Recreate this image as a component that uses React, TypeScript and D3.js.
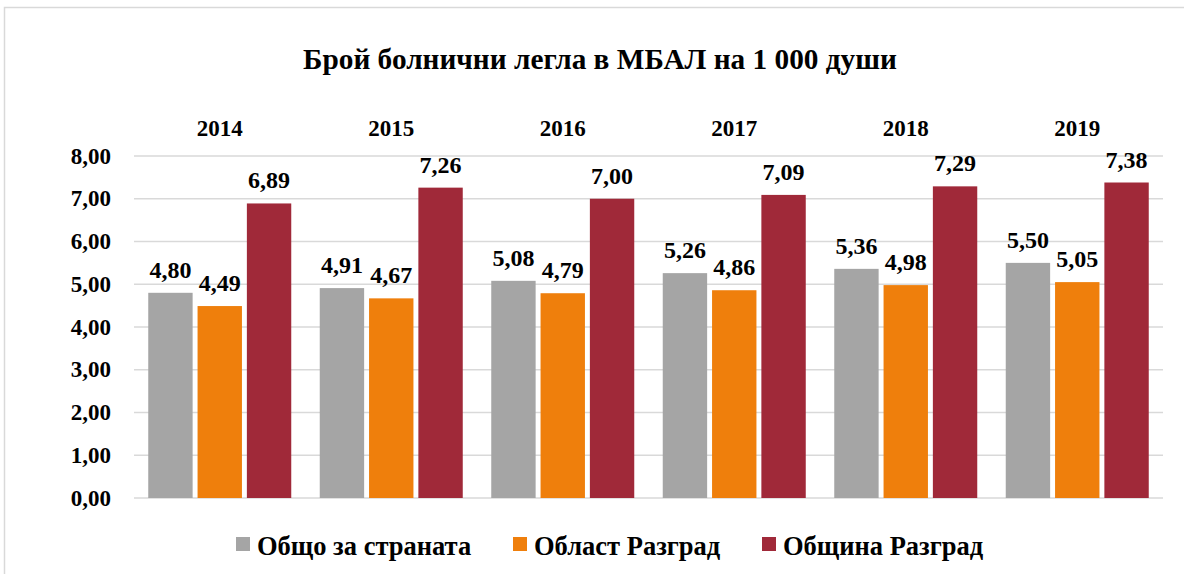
import React from "react";
import * as d3 from "d3";

const title = "Брой болнични легла в МБАЛ на 1 000 души";
const years = ["2014", "2015", "2016", "2017", "2018", "2019"];
const seriesNames = ["Общо за страната", "Област Разград", "Община Разград"];
const seriesColors = ["#a5a5a5", "#ef7f0c", "#a02939"];
const country = [4.8, 4.91, 5.08, 5.26, 5.36, 5.5];
const region = [4.49, 4.67, 4.79, 4.86, 4.98, 5.05];
const municipality = [6.89, 7.26, 7.0, 7.09, 7.29, 7.38];
const yTicks = [0, 1, 2, 3, 4, 5, 6, 7, 8];

const seriesValues = [country, region, municipality];
const fmt = (v: number) => v.toFixed(2).replace(".", ",");
const FONT = '"Liberation Serif", "DejaVu Serif", serif';

export default function App() {
  const W = 1184;
  const H = 574;
  const y = d3.scaleLinear().domain([0, 8]).range([498, 156]);
  const x0 = d3.scaleBand<string>().domain(years).range([134, 1163]).padding(0);
  const x1 = d3
    .scaleBand<string>()
    .domain(seriesNames)
    .range([14.25, 157.25])
    .paddingInner(0.1)
    .paddingOuter(0);

  const legendX = [236, 513, 762];
  const txt = { fontFamily: FONT, fontWeight: 700 as const };

  return (
    <div style={{ position: "fixed", left: 0, top: 0, width: W, height: H, background: "#fff" }}>
      <svg width={W} height={H} style={{ display: "block", fontFamily: FONT }}>
        <rect x={0} y={0} width={W} height={H} fill="#fff" />
        <rect x={4.5} y={7.5} width={W + 20} height={H + 20} fill="none" stroke="#d9d9d9" strokeWidth={1.5} />
        <text x={600} y={69} textAnchor="middle" fontSize={29.3} style={txt} fill="#000">
          {title}
        </text>
        {yTicks.map((t) => (
          <g key={t}>
            <line x1={134} x2={1163} y1={y(t)} y2={y(t)} stroke="#d9d9d9" strokeWidth={1.5} />
            <text x={111} y={y(t) + 7.5} textAnchor="end" fontSize={23} style={txt} fill="#000">
              {fmt(t)}
            </text>
          </g>
        ))}
        {years.map((yr, i) => {
          const gx = x0(yr)!;
          return (
            <g key={yr}>
              <text x={gx + x0.bandwidth() / 2} y={136} textAnchor="middle" fontSize={23} style={txt} fill="#000">
                {yr}
              </text>
              {seriesNames.map((s, j) => {
                const v = seriesValues[j][i];
                const bx = gx + x1(s)!;
                return (
                  <g key={s}>
                    <rect x={bx} y={y(v)} width={x1.bandwidth()} height={y(0) - y(v)} fill={seriesColors[j]} />
                    <text
                      x={bx + x1.bandwidth() / 2}
                      y={y(v) - 15}
                      textAnchor="middle"
                      fontSize={24}
                      style={txt}
                      fill="#000"
                    >
                      {fmt(v)}
                    </text>
                  </g>
                );
              })}
            </g>
          );
        })}
        {seriesNames.map((s, j) => (
          <g key={s}>
            <rect x={legendX[j]} y={537} width={14} height={14} fill={seriesColors[j]} />
            <text x={legendX[j] + 21} y={555} fontSize={26.5} style={txt} fill="#000">
              {s}
            </text>
          </g>
        ))}
      </svg>
    </div>
  );
}
